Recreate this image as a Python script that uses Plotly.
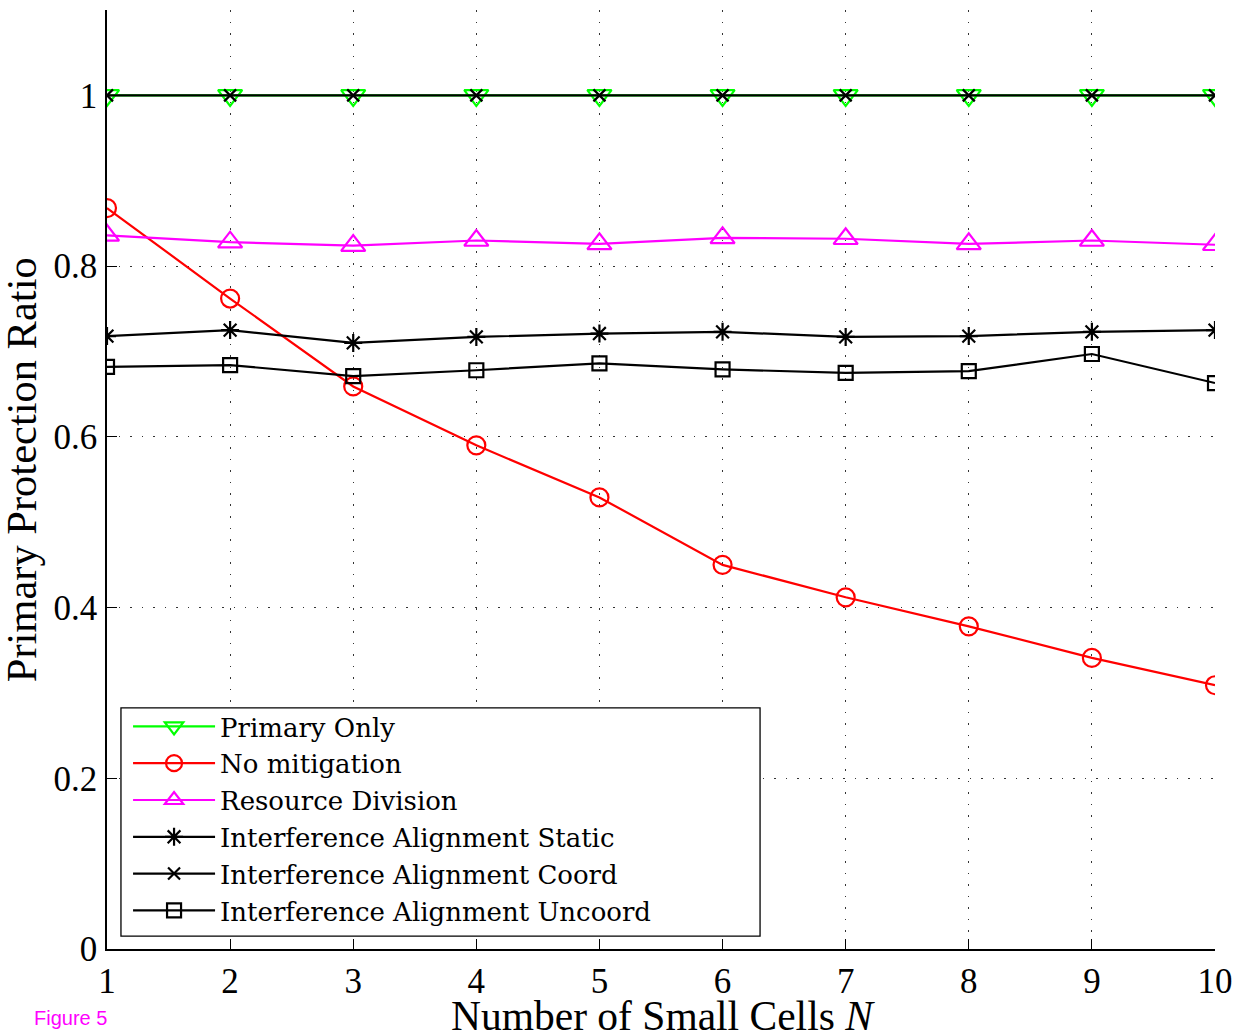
import plotly.graph_objects as go

N = [1, 2, 3, 4, 5, 6, 7, 8, 9, 10]
primary_only = [1, 1, 1, 1, 1, 1, 1, 1, 1, 1]
no_mitigation = [0.868, 0.762, 0.659, 0.590, 0.529, 0.450, 0.412, 0.378, 0.341, 0.309]
resource_division = [0.836, 0.828, 0.824, 0.830, 0.826, 0.833, 0.832, 0.826, 0.830, 0.825]
ia_static = [0.718, 0.725, 0.710, 0.717, 0.721, 0.723, 0.717, 0.718, 0.723, 0.725]
ia_coord = [1, 1, 1, 1, 1, 1, 1, 1, 1, 1]
ia_uncoord = [0.682, 0.684, 0.671, 0.678, 0.686, 0.679, 0.675, 0.677, 0.697, 0.663]

series = [
    ("Primary Only", primary_only, "#00ff00", "triangle-down-open", 21),
    ("No mitigation", no_mitigation, "#ff0000", "circle-open", 18),
    ("Resource Division", resource_division, "#ff00ff", "triangle-up-open", 21),
    ("Interference Alignment Static", ia_static, "#000000", "asterisk-open", 15),
    ("Interference Alignment Coord", ia_coord, "#000000", "x-thin-open", 12),
    ("Interference Alignment Uncoord", ia_uncoord, "#000000", "square-open", 14),
]

fig = go.Figure()
for name, ys, color, sym, size in series:
    fig.add_trace(go.Scatter(
        x=N, y=ys, name=name, mode="lines+markers",
        line=dict(color=color, width=2.2),
        marker=dict(symbol=sym, size=size, color=color, line=dict(color=color, width=2.2)),
    ))

serif = "Liberation Serif"
yticks = [0, 0.2, 0.4, 0.6, 0.8, 1]
ytext = ["0", "0.2", "0.4", "0.6", "0.8", "1"]
griddash = "1.5px,10px"

fig.update_layout(
    width=1235, height=1035,
    margin=dict(l=107, r=20, t=10, b=86),
    plot_bgcolor="white", paper_bgcolor="white",
    font=dict(family=serif, size=34, color="black"),
    showlegend=True,
    legend=dict(
        x=0.019, y=0.262, xanchor="left", yanchor="top",
        bgcolor="rgba(0,0,0,0)", borderwidth=0,
        font=dict(family="DejaVu Serif", size=26, color="black"),
        tracegroupgap=0, itemwidth=82,
    ),
    xaxis=dict(
        range=[1, 10], tickvals=N, ticktext=[str(v) for v in N],
        showline=True, linecolor="black", linewidth=1.5,
        ticks="inside", ticklen=10, tickcolor="black",
        showgrid=True, gridcolor="#333", griddash=griddash, gridwidth=1.2,
        zeroline=False, tickfont=dict(family=serif, size=35),
        automargin=False, ticklabelstandoff=0,
    ),
    yaxis=dict(
        range=[0, 1.1], tickvals=yticks, ticktext=ytext,
        showline=True, linecolor="black", linewidth=1.5,
        ticks="inside", ticklen=10, tickcolor="black",
        showgrid=True, gridcolor="#333", griddash=griddash, gridwidth=1.2,
        zeroline=False, tickfont=dict(family=serif, size=35),
        automargin=False, ticklabelstandoff=1,
    ),
)

# legend frame (white box with black border)
fig.add_shape(
    type="rect", xref="paper", yref="paper",
    x0=0.0126, x1=0.5894, y0=0.0138, y1=0.2567,
    fillcolor="white", line=dict(color="black", width=1.3), layer="above",
)

fig.add_annotation(
    text="Number of Small Cells <i>N</i>", xref="paper", yref="paper",
    x=0.5018, y=-0.071, xanchor="center", yanchor="middle", showarrow=False,
    font=dict(family=serif, size=41.5, color="black"),
)
fig.add_annotation(
    text="Primary Protection Ratio", xref="paper", yref="paper",
    x=-0.0775, y=0.51, xanchor="center", yanchor="middle", showarrow=False,
    textangle=-90, font=dict(family=serif, size=42.5, color="black"),
)
fig.add_annotation(
    text="Figure 5", xref="paper", yref="paper", x=-0.068, y=-0.0735,
    xanchor="left", yanchor="middle", showarrow=False,
    font=dict(family="Liberation Sans", size=20, color="#ff00ff"),
)

fig.write_html(
    "out.html",
    config={"displayModeBar": False},
    post_script="document.body.style.margin='0';document.body.style.overflow='hidden';",
)
